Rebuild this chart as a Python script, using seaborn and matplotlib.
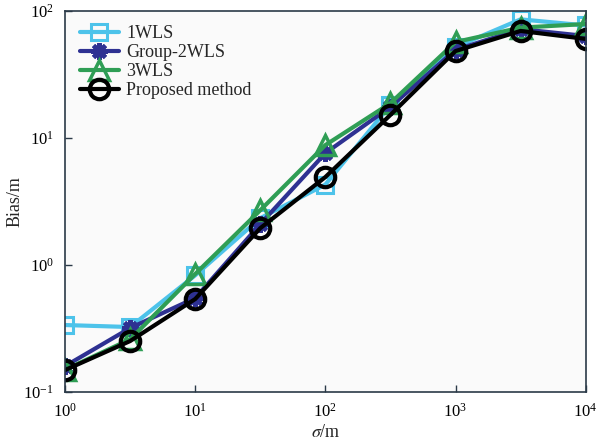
import numpy as np
import pandas as pd
import matplotlib
matplotlib.use("Agg")
import matplotlib.pyplot as plt
import seaborn as sns
from matplotlib.ticker import LogLocator, NullLocator

sigma = [1, 3.16, 10, 31.6, 100, 316, 1000, 3162, 10000]
bias_1wls = [0.337, 0.325, 0.83, 2.34, 4.3, 18.2, 52, 86, 77]
bias_group2wls = [0.160, 0.319, 0.55, 2.1, 7.6, 17.6, 49.5, 72, 63.6]
bias_3wls = [0.150, 0.26, 0.85, 2.7, 8.8, 18.8, 57, 74, 79]
bias_proposed = [0.149, 0.252, 0.54, 1.95, 4.93, 15.2, 48.4, 69.7, 60.3]

methods = ["1WLS", "Group-2WLS", "3WLS", "Proposed method"]
series = [bias_1wls, bias_group2wls, bias_3wls, bias_proposed]

df = pd.DataFrame({
    "sigma": sigma * len(methods),
    "bias": [v for s in series for v in s],
    "method": [m for m in methods for _ in sigma],
})

sns.set_theme(style="ticks")
plt.rcParams["font.family"] = ["Liberation Serif", "DejaVu Serif"]
plt.rcParams["mathtext.fontset"] = "stix"

fig = plt.figure(figsize=(5.97, 4.41), dpi=100)
ax = fig.add_axes([0.109, 0.111, 0.872, 0.864])
ax.set_facecolor("#fafafa")

styles = {
    "1WLS": dict(color="#4dc3ea", marker="s", mfc="none", ms=11, mew=2.2),
    "Group-2WLS": dict(color="#2e3192", marker=(8, 2, 0), mfc="#2e3192", ms=12, mew=3),
    "3WLS": dict(color="#2f9e55", marker="^", mfc="none", ms=14, mew=2.5),
    "Proposed method": dict(color="black", marker="o", mfc="none", ms=14, mew=3),
}

for m in methods:
    st = styles[m]
    sns.lineplot(data=df[df["method"] == m], x="sigma", y="bias", ax=ax,
                 color=st["color"], marker=st["marker"], markerfacecolor=st["mfc"],
                 markeredgecolor=st["color"], markersize=st["ms"],
                 markeredgewidth=st["mew"], linewidth=3, label=m)

ax.set_xscale("log")
ax.set_yscale("log")
ax.set_xlim(1, 1e4)
ax.set_ylim(0.1, 100)
ax.xaxis.set_major_locator(LogLocator(base=10, numticks=10))
ax.yaxis.set_major_locator(LogLocator(base=10, numticks=10))
ax.xaxis.set_minor_locator(NullLocator())
ax.yaxis.set_minor_locator(NullLocator())
ax.tick_params(direction="in", length=5, width=1, colors="#2b3a48", labelcolor="black",
               labelsize=12, pad=8)

for sp in ax.spines.values():
    sp.set_color("#2b3a48")
    sp.set_linewidth(1.2)

ax.set_xlabel(r"$\sigma$/m", fontsize=13, labelpad=2)
ax.set_ylabel("Bias/m", fontsize=13, labelpad=0)

leg = ax.legend(loc="upper left", frameon=False, fontsize=13, handlelength=2.2,
                handletextpad=0.4, labelspacing=0.1, borderaxespad=0.4)

fig.savefig("out.png", dpi=100)
